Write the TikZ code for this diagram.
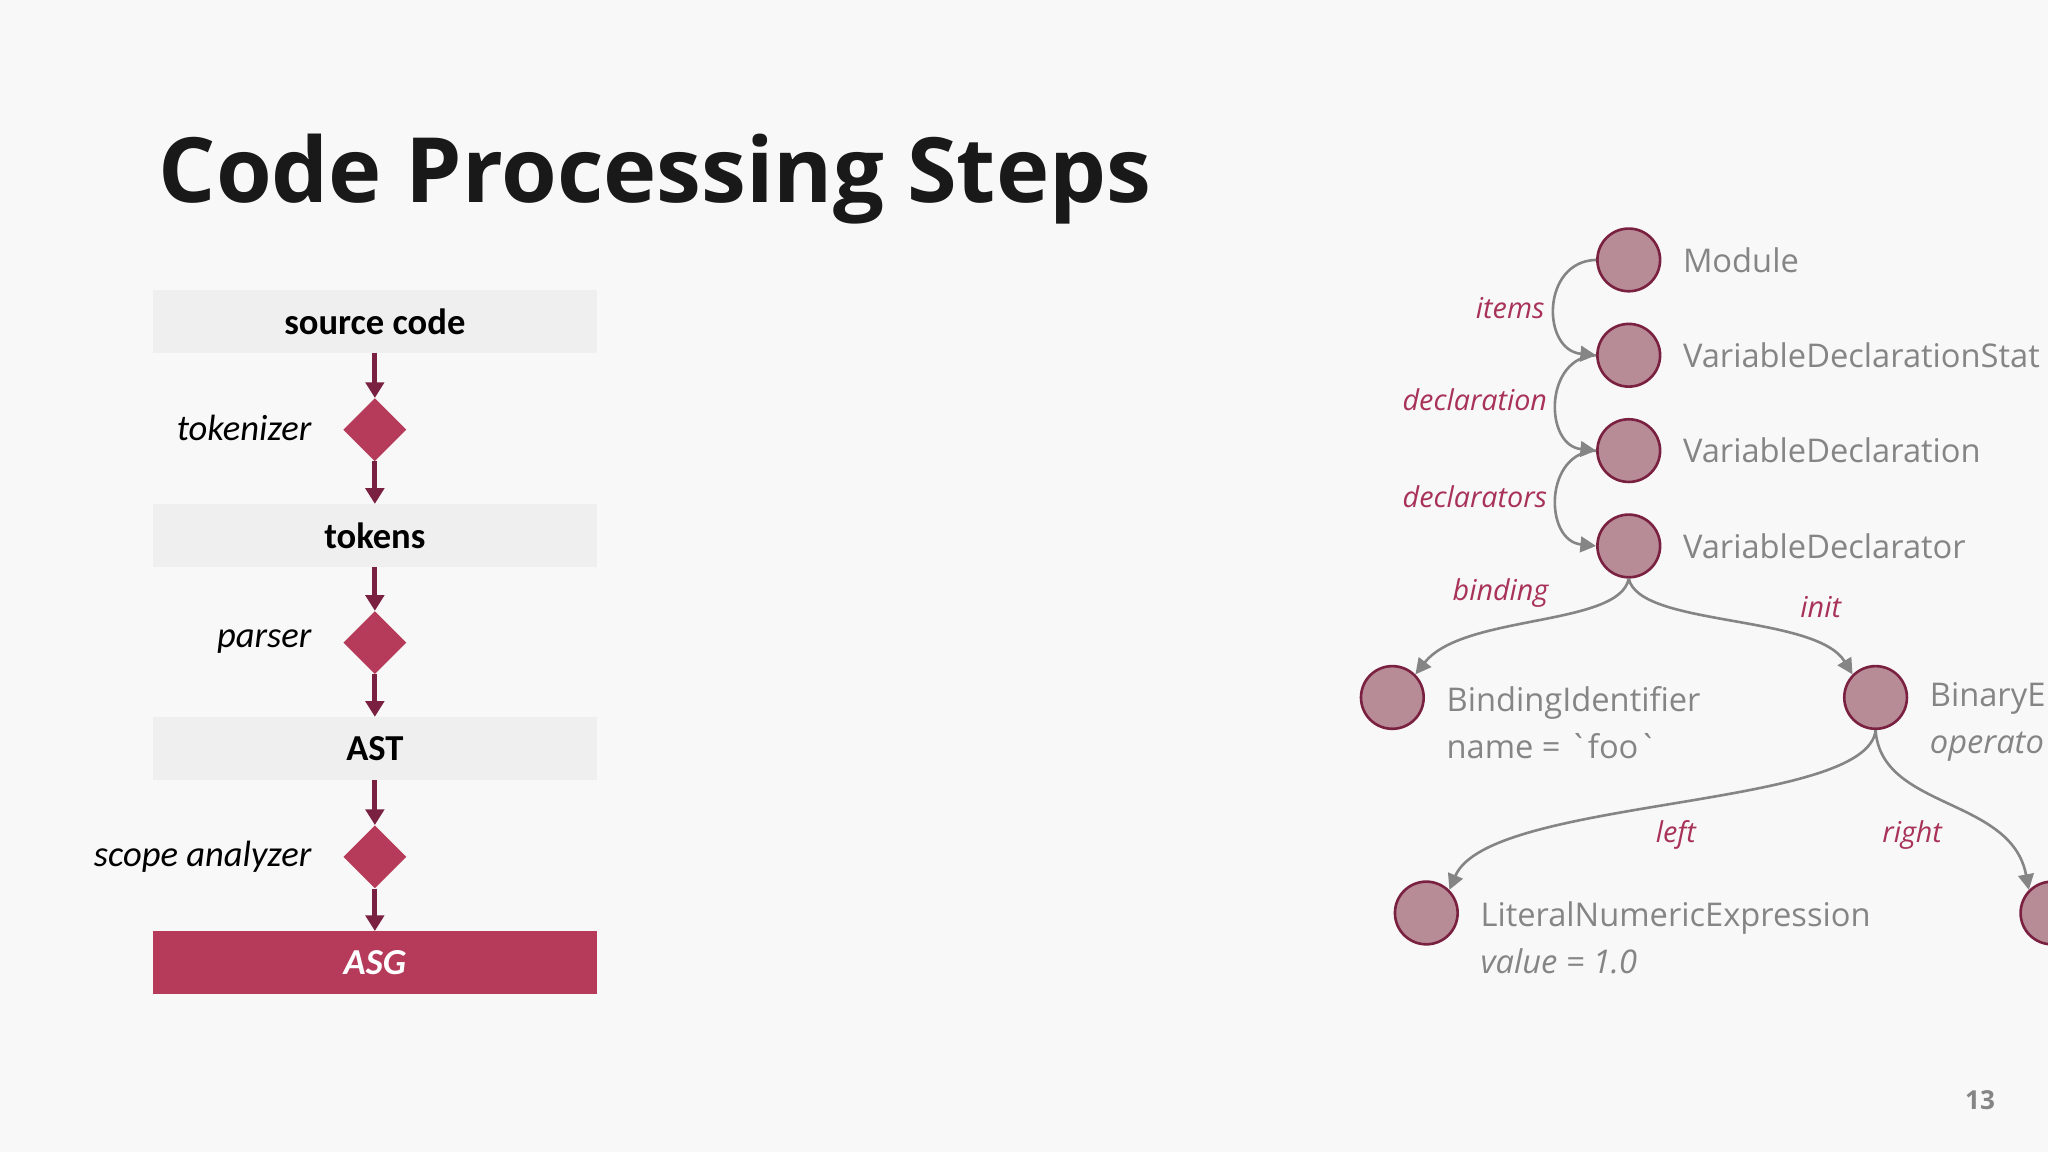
\documentclass[tikz,border=0pt]{standalone}
\usepackage{fontspec}
\setmainfont{Carlito}
\newfontfamily\titlefont{Open Sans}
\newfontfamily\treefont{Open Sans}
\usetikzlibrary{arrows.meta}
\definecolor{bg}{HTML}{F8F8F8}
\definecolor{boxbg}{HTML}{EFEFEF}
\definecolor{rosered}{HTML}{B63A5A}
\definecolor{darkred}{HTML}{7A2040}
\definecolor{circfill}{HTML}{B88C96}
\definecolor{treegray}{HTML}{858585}
\definecolor{lblred}{HTML}{A83258}
\tikzset{
  stepbox/.style={fill=boxbg,minimum width=340pt,minimum height=48pt,inner sep=0pt,font=\fontsize{28}{32}\selectfont\bfseries},
  diam/.style={fill=rosered,minimum width=34pt,minimum height=34pt,rotate=45,inner sep=0pt},
  flow/.style={darkred,line width=4pt,-{Triangle[length=12pt,width=14pt]}},
  proclbl/.style={anchor=east,font=\fontsize{28}{32}\selectfont\itshape},
  tnode/.style={circle,fill=circfill,draw=darkred,line width=2pt,minimum size=48pt,inner sep=0pt},
  ttext/.style={anchor=west,text=treegray,font=\treefont\fontsize{25}{36}\selectfont,align=left},
  tedge/.style={treegray,line width=2pt,-{Triangle[length=12pt,width=12pt]}},
  elbl/.style={text=lblred,font=\treefont\itshape\fontsize{22}{26}\selectfont}
}
\begin{document}
\begin{tikzpicture}[x=1pt,y=-1pt]
\fill[bg] (0,0) rectangle (1568,882);
\useasboundingbox (0,0) rectangle (1568,882);
\node[anchor=base west,font=\titlefont\bfseries\fontsize{69}{80}\selectfont,text=black!90] (title) at (118,155) {Code Processing Steps};
% left flow
\node[stepbox] (src) at (287,246) {source code};
\node[stepbox] (tok) at (287,410) {tokens};
\node[stepbox] (ast) at (287,573) {AST};
\node[stepbox,fill=rosered,text=white,font=\fontsize{28}{32}\selectfont\bfseries\itshape] (asg) at (287,737) {ASG};
\node[diam] (d1) at (287,329) {};
\node[diam] (d2) at (287,492) {};
\node[diam] (d3) at (287,656) {};
\node[proclbl] (l1) at (242,328) {tokenizer};
\node[proclbl] (l2) at (242,491) {parser};
\node[proclbl] (l3) at (242,656) {scope analyzer};
\draw[flow] (src.south) -- (d1.north east);
\draw[flow] (d1.south west) -- (tok.north);
\draw[flow] (tok.south) -- (d2.north east);
\draw[flow] (d2.south west) -- (ast.north);
\draw[flow] (ast.south) -- (d3.north east);
\draw[flow] (d3.south west) -- (asg.north);
% tree
\begin{scope}
\clip (0,0) rectangle (1568,882);
\node[tnode] (m) at (1247,199) {};
\node[tnode] (vds) at (1247,272) {};
\node[tnode] (vd) at (1247,345) {};
\node[tnode] (vdr) at (1247,418) {};
\node[tnode] (bi) at (1066,534) {};
\node[tnode] (be) at (1436,534) {};
\node[tnode] (lne) at (1092,699) {};
\node[tnode] (rt) at (1571,699) {};
\node[ttext] (tm) at (1285,199) {Module};
\node[ttext] (tvds) at (1285,272) {VariableDeclarationStat};
\node[ttext] (tvd) at (1285,345) {VariableDeclaration};
\node[ttext] (tvdr) at (1285,418) {VariableDeclarator};
\node[ttext] (tbi) at (1104,553) {BindingIdentifier\\name = `foo`};
\node[ttext] (tbe) at (1474,553) {BinaryE\\\textit{operato}};
\node[ttext] (tlne) at (1130,718) {LiteralNumericExpression\\\textit{value = 1.0}};
\draw[tedge] (m.west) .. controls (1180,200) and (1180,268) .. (vds.west);
\draw[tedge] (vds.west) .. controls (1182,273) and (1182,341) .. (vd.west);
\draw[tedge] (vd.west) .. controls (1182,346) and (1182,414) .. (vdr.west);
\draw[tedge] (vdr.south) .. controls (1240,480) and (1120,470) .. (bi.north east);
\draw[tedge] (vdr.south) .. controls (1255,480) and (1390,470) .. (be.north west);
\draw[tedge] (be.south) .. controls (1430,620) and (1140,610) .. (lne.north east);
\draw[tedge] (be.south) .. controls (1440,620) and (1540,610) .. (rt.north west);
\end{scope}
\node[elbl,anchor=east] (e1) at (1186,236) {items};
\node[elbl,anchor=east] (e2) at (1188,306) {declaration};
\node[elbl,anchor=east] (e3) at (1188,380) {declarators};
\node[elbl,anchor=east] (e4) at (1189,454) {binding};
\node[elbl] (e5) at (1394,465) {init};
\node[elbl] (e6) at (1283,639) {left};
\node[elbl] (e7) at (1464,639) {right};
\node[text=treegray,font=\titlefont\bfseries\fontsize{20}{24}\selectfont] (pg) at (1516,842) {13};
\end{tikzpicture}
\end{document}
